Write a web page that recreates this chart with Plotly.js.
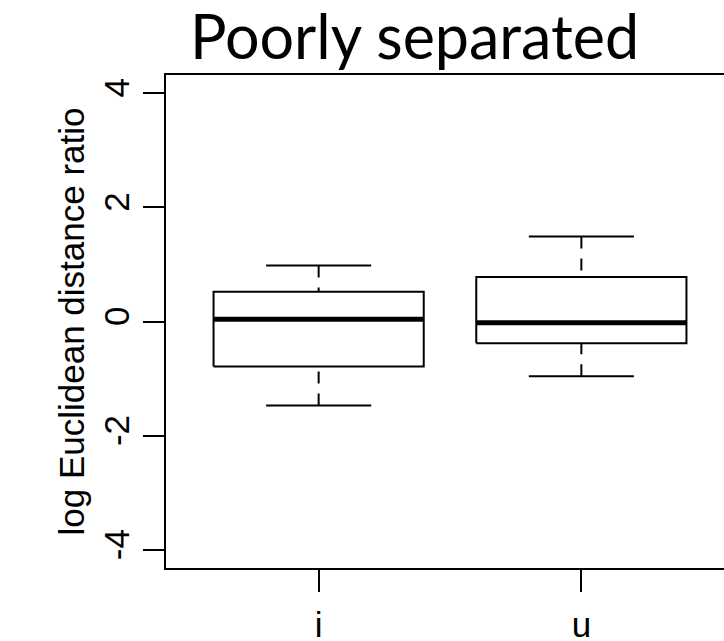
<!DOCTYPE html>
<html>
<head>
<meta charset="utf-8">
<script src="https://cdn.plot.ly/plotly-3.0.1.min.js"></script>
<style>
  html, body { margin: 0; padding: 0; overflow: hidden; background: #fff; }
  #chart { width: 740px; height: 670px; }
</style>
</head>
<body>
<div id="chart"></div>
<script>
// ---- data ----
const categories = ['i', 'u'];
const upperWhisker = [0.98, 1.49];
const q3Values = [0.52, 0.78];
const medianValues = [0.04, -0.02];
const q1Values = [-0.79, -0.38];
const lowerWhisker = [-1.47, -0.96];
const yTickValues = [-4, -2, 0, 2, 4];
const yTickLabels = ['-4', '-2', '0', '2', '4'];

// ---- styles ----
const BOX_HALF = 0.4;     // R boxwex 0.8
const CAP_HALF = 0.2;     // staple width
const black = '#000000';

const traces = [];
categories.forEach((cat, k) => {
  const c = k + 1;
  // whiskers (dashed), drawn from the whisker end to the hinge
  traces.push({
    type: 'scatter', mode: 'lines', hoverinfo: 'skip', showlegend: false,
    x: [c, c], y: [upperWhisker[k], q3Values[k]],
    line: { color: black, width: 2, dash: '12px,10px' }
  });
  traces.push({
    type: 'scatter', mode: 'lines', hoverinfo: 'skip', showlegend: false,
    x: [c, c], y: [lowerWhisker[k], q1Values[k]],
    line: { color: black, width: 2, dash: '12px,10px' }
  });
  // staples
  traces.push({
    type: 'scatter', mode: 'lines', hoverinfo: 'skip', showlegend: false,
    x: [c - CAP_HALF, c + CAP_HALF], y: [upperWhisker[k], upperWhisker[k]],
    line: { color: black, width: 2 }
  });
  traces.push({
    type: 'scatter', mode: 'lines', hoverinfo: 'skip', showlegend: false,
    x: [c - CAP_HALF, c + CAP_HALF], y: [lowerWhisker[k], lowerWhisker[k]],
    line: { color: black, width: 2 }
  });
  // box
  traces.push({
    type: 'scatter', mode: 'lines', hoverinfo: 'skip', showlegend: false,
    x: [c - BOX_HALF, c + BOX_HALF, c + BOX_HALF, c - BOX_HALF, c - BOX_HALF],
    y: [q1Values[k], q1Values[k], q3Values[k], q3Values[k], q1Values[k]],
    fill: 'toself', fillcolor: '#ffffff',
    line: { color: black, width: 2 }
  });
  // median
  traces.push({
    type: 'scatter', mode: 'lines', hoverinfo: 'skip', showlegend: false,
    x: [c - BOX_HALF, c + BOX_HALF], y: [medianValues[k], medianValues[k]],
    line: { color: black, width: 5 }
  });
});

const axisFont = { family: 'Liberation Sans, Arial, sans-serif', size: 35, color: black };

const layout = {
  width: 740, height: 670,
  margin: { l: 166, r: 6, t: 75, b: 102, pad: 0 },
  paper_bgcolor: '#ffffff', plot_bgcolor: '#ffffff',
  showlegend: false,
  title: {
    text: 'Poorly separated',
    font: { family: 'Lato, Carlito, sans-serif', size: 61, color: black },
    x: 0.4375, xref: 'paper', xanchor: 'center',
    y: 0.976, yref: 'container', yanchor: 'top'
  },
  xaxis: {
    range: [0.419, 2.581],
    tickvals: categories.map((_, k) => k + 1),
    ticktext: categories,
    ticks: 'outside', ticklen: 22, tickwidth: 2, tickcolor: black,
    ticklabelstandoff: 3,
    tickfont: axisFont,
    showline: true, linecolor: black, linewidth: 2, mirror: true,
    showgrid: false, zeroline: false, fixedrange: true
  },
  yaxis: {
    range: [-4.316, 4.316],
    tickvals: yTickValues,
    ticktext: yTickLabels,
    tickangle: -90,
    ticks: 'outside', ticklen: 21, tickwidth: 2, tickcolor: black,
    ticklabelstandoff: 0,
    tickfont: axisFont,
    showline: true, linecolor: black, linewidth: 2, mirror: true,
    showgrid: false, zeroline: false, fixedrange: true,
    title: {
      text: 'log Euclidean distance ratio',
      font: { family: 'Liberation Sans, Arial, sans-serif', size: 35, color: black },
      standoff: 2
    }
  }
};

Plotly.newPlot('chart', traces, layout, { staticPlot: true, displayModeBar: false });
</script>
</body>
</html>
